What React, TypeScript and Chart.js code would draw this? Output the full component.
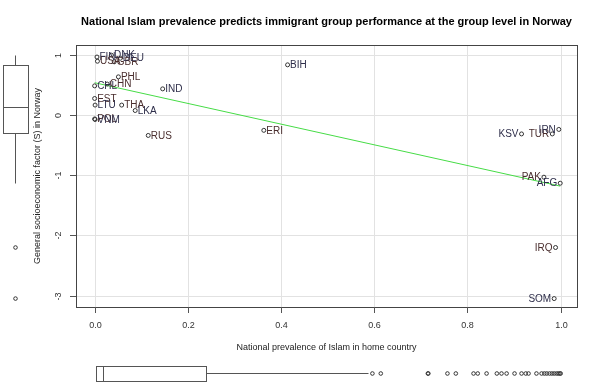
import React, { useEffect, useRef } from 'react';
import { Chart, registerables } from 'chart.js';

Chart.register(...registerables);

const countries = ['FIN', 'USA', 'DNK', 'GBR', 'DEU', 'PHL', 'CHL', 'CHN', 'IND', 'EST', 'LTU', 'THA', 'LKA', 'POL', 'VNM', 'RUS', 'BIH', 'ERI', 'KSV', 'TUR', 'IRN', 'PAK', 'AFG', 'IRQ', 'SOM'];
const islamShare = [0.005, 0.006, 0.036, 0.042, 0.055, 0.051, 0.0, 0.027, 0.146, 0.0, 0.001, 0.058, 0.087, 0.0, 0.001, 0.115, 0.414, 0.363, 0.916, 0.982, 0.996, 0.964, 0.999, 0.989, 0.986];
const sFactor = [0.97, 0.9, 1.0, 0.89, 0.95, 0.64, 0.49, 0.52, 0.44, 0.28, 0.17, 0.17, 0.08, -0.06, -0.07, -0.335, 0.84, -0.25, -0.31, -0.31, -0.235, -1.03, -1.13, -2.2, -3.05];

const xTicks = [0, 0.2, 0.4, 0.6, 0.8, 1.0];
const xTickLabels = ['0.0', '0.2', '0.4', '0.6', '0.8', '1.0'];
const yTicks = [1, 0, -1, -2, -3];
const yTickLabels = ['1', '0', '-1', '-2', '-3'];

// boxplot stats: [lower whisker, q1, median, q3, upper whisker]
const xBoxStats = [0.003, 0.003, 0.018, 0.238, 0.586];
const xBoxOutliers = [0.596, 0.614, 0.715, 0.716, 0.757, 0.775, 0.813, 0.822, 0.841, 0.863, 0.873, 0.884, 0.901, 0.916, 0.925, 0.931, 0.948, 0.959, 0.965, 0.97, 0.976, 0.981, 0.986, 0.991, 0.995, 0.998, 1.0];
const yBoxStats = [-1.13, -0.3, 0.14, 0.83, 1.0];
const yBoxOutliers = [-2.2, -3.05];

const titleText = 'National Islam prevalence predicts immigrant group performance at the group level in Norway';
const xTitle = 'National prevalence of Islam in home country';
const yTitle = 'General socioeconomic factor (S) in Norway';

const FONT = '"Liberation Sans", Arial, Helvetica, sans-serif';

function fit(xs: number[], ys: number[]) {
  const n = xs.length;
  const mx = xs.reduce((a, b) => a + b, 0) / n;
  const my = ys.reduce((a, b) => a + b, 0) / n;
  let sxy = 0, sxx = 0;
  for (let i = 0; i < n; i++) {
    sxy += (xs[i] - mx) * (ys[i] - my);
    sxx += (xs[i] - mx) * (xs[i] - mx);
  }
  const b = sxy / sxx;
  return { a: my - b * mx, b };
}

export default function App() {
  const ref = useRef<HTMLCanvasElement | null>(null);

  useEffect(() => {
    document.body.style.margin = '0';
    const canvas = ref.current;
    if (!canvas) return;

    const { a, b } = fit(islamShare, sFactor);
    const xmin = Math.min(...islamShare);
    const xmax = Math.max(...islamShare);

    const decor = {
      id: 'decor',
      beforeDatasetsDraw(chart: any) {
        const { ctx, chartArea: ca, scales } = chart;
        const xs = scales.x, ys = scales.y;
        ctx.save();
        ctx.strokeStyle = '#e2e2e2';
        ctx.lineWidth = 1;
        xTicks.forEach((t) => {
          const p = Math.round(xs.getPixelForValue(t)) + 0.5;
          ctx.beginPath(); ctx.moveTo(p, ca.top); ctx.lineTo(p, ca.bottom); ctx.stroke();
        });
        yTicks.forEach((t) => {
          const p = Math.round(ys.getPixelForValue(t)) + 0.5;
          ctx.beginPath(); ctx.moveTo(ca.left, p); ctx.lineTo(ca.right, p); ctx.stroke();
        });
        ctx.restore();
      },
      afterDatasetsDraw(chart: any) {
        const { ctx, chartArea: ca, scales } = chart;
        const xs = scales.x, ys = scales.y;
        ctx.save();
        // point labels
        ctx.font = `10px ${FONT}`;
        ctx.textBaseline = 'middle';
        countries.forEach((c, i) => {
          const px = xs.getPixelForValue(islamShare[i]);
          const py = ys.getPixelForValue(sFactor[i]);
          const left = islamShare[i] > 0.9;
          ctx.fillStyle = i % 2 === 0 ? '#2e2e4a' : '#4a2e2e';
          ctx.textAlign = left ? 'right' : 'left';
          ctx.fillText(c, left ? px - 3 : px + 2.5, py + 0.5);
        });

        // border
        ctx.strokeStyle = '#444';
        ctx.lineWidth = 1;
        ctx.strokeRect(Math.round(ca.left) + 0.5, Math.round(ca.top) + 0.5, Math.round(ca.right - ca.left), Math.round(ca.bottom - ca.top));

        // ticks
        ctx.strokeStyle = '#555';
        ctx.fillStyle = '#333';
        ctx.font = `9px ${FONT}`;
        ctx.textAlign = 'center';
        ctx.textBaseline = 'middle';
        xTicks.forEach((t, i) => {
          const p = Math.round(xs.getPixelForValue(t)) + 0.5;
          ctx.beginPath(); ctx.moveTo(p, ca.bottom); ctx.lineTo(p, ca.bottom + 6); ctx.stroke();
          ctx.fillText(xTickLabels[i], p, ca.bottom + 19);
        });
        yTicks.forEach((t, i) => {
          const p = Math.round(ys.getPixelForValue(t)) + 0.5;
          ctx.beginPath(); ctx.moveTo(ca.left - 6, p); ctx.lineTo(ca.left, p); ctx.stroke();
          ctx.save();
          ctx.translate(ca.left - 17, p);
          ctx.rotate(-Math.PI / 2);
          ctx.fillText(yTickLabels[i], 0, 0);
          ctx.restore();
        });

        // axis titles
        ctx.fillStyle = '#222';
        ctx.fillText(xTitle, (ca.left + ca.right) / 2, ca.bottom + 41);
        ctx.save();
        ctx.translate(38, (ca.top + ca.bottom) / 2);
        ctx.rotate(-Math.PI / 2);
        ctx.fillText(yTitle, 0, 0);
        ctx.restore();

        // title
        ctx.fillStyle = '#000';
        ctx.font = `bold 11px ${FONT}`;
        ctx.fillText(titleText, (ca.left + ca.right) / 2, 22);

        // bottom boxplot (x distribution)
        ctx.strokeStyle = '#555';
        ctx.lineWidth = 1;
        const by0 = 366, by1 = 381, bym = 373.5;
        const [xlw, xq1, xmed, xq3, xuw] = xBoxStats.map((v) => Math.round(xs.getPixelForValue(v)) + 0.5);
        ctx.strokeRect(xq1, by0 + 0.5, xq3 - xq1, by1 - by0);
        ctx.beginPath(); ctx.moveTo(xmed, by0); ctx.lineTo(xmed, by1); ctx.stroke();
        ctx.beginPath(); ctx.moveTo(xq3, bym); ctx.lineTo(xuw, bym); ctx.stroke();
        ctx.beginPath(); ctx.moveTo(xlw, bym); ctx.lineTo(xq1, bym); ctx.stroke();
        ctx.strokeStyle = '#333';
        xBoxOutliers.forEach((v) => {
          ctx.beginPath(); ctx.arc(xs.getPixelForValue(v), bym, 1.8, 0, Math.PI * 2); ctx.stroke();
        });

        // left boxplot (y distribution)
        ctx.strokeStyle = '#555';
        const bx0 = 3, bx1 = 28, bxm = 15.5;
        const [ylw, yq1, ymed, yq3, yuw] = yBoxStats.map((v) => Math.round(ys.getPixelForValue(v)) + 0.5);
        ctx.strokeRect(bx0 + 0.5, yq3, bx1 - bx0, yq1 - yq3);
        ctx.beginPath(); ctx.moveTo(bx0, ymed); ctx.lineTo(bx1, ymed); ctx.stroke();
        ctx.beginPath(); ctx.moveTo(bxm, yq3); ctx.lineTo(bxm, yuw); ctx.stroke();
        ctx.beginPath(); ctx.moveTo(bxm, yq1); ctx.lineTo(bxm, ylw); ctx.stroke();
        ctx.strokeStyle = '#333';
        yBoxOutliers.forEach((v) => {
          ctx.beginPath(); ctx.arc(bxm, ys.getPixelForValue(v), 1.8, 0, Math.PI * 2); ctx.stroke();
        });

        ctx.restore();
      },
    };

    const chart = new Chart(canvas, {
      type: 'scatter',
      data: {
        datasets: [
          {
            data: islamShare.map((x, i) => ({ x, y: sFactor[i] })),
            pointRadius: 2,
            pointBorderWidth: 1,
            pointBorderColor: '#333',
            pointBackgroundColor: 'rgba(0,0,0,0)',
            showLine: false,
          } as any,
          {
            type: 'line',
            data: [
              { x: xmin, y: a + b * xmin },
              { x: xmax, y: a + b * xmax },
            ],
            borderColor: 'rgb(70, 220, 70)',
            borderWidth: 1,
            pointRadius: 0,
            fill: false,
          } as any,
        ],
      },
      options: {
        animation: false,
        responsive: false,
        devicePixelRatio: 1,
        layout: { padding: { left: 76, right: 23, top: 45, bottom: 77 } },
        plugins: { legend: { display: false }, tooltip: { enabled: false }, title: { display: false } },
        scales: {
          x: { type: 'linear', display: false, min: -0.04, max: 1.035 },
          y: { type: 'linear', display: false, min: -3.19, max: 1.17 },
        },
      },
      plugins: [decor],
    });

    return () => chart.destroy();
  }, []);

  return (
    <div style={{ width: 600, height: 384, background: '#fff' }}>
      <canvas ref={ref} width={600} height={384} />
    </div>
  );
}
